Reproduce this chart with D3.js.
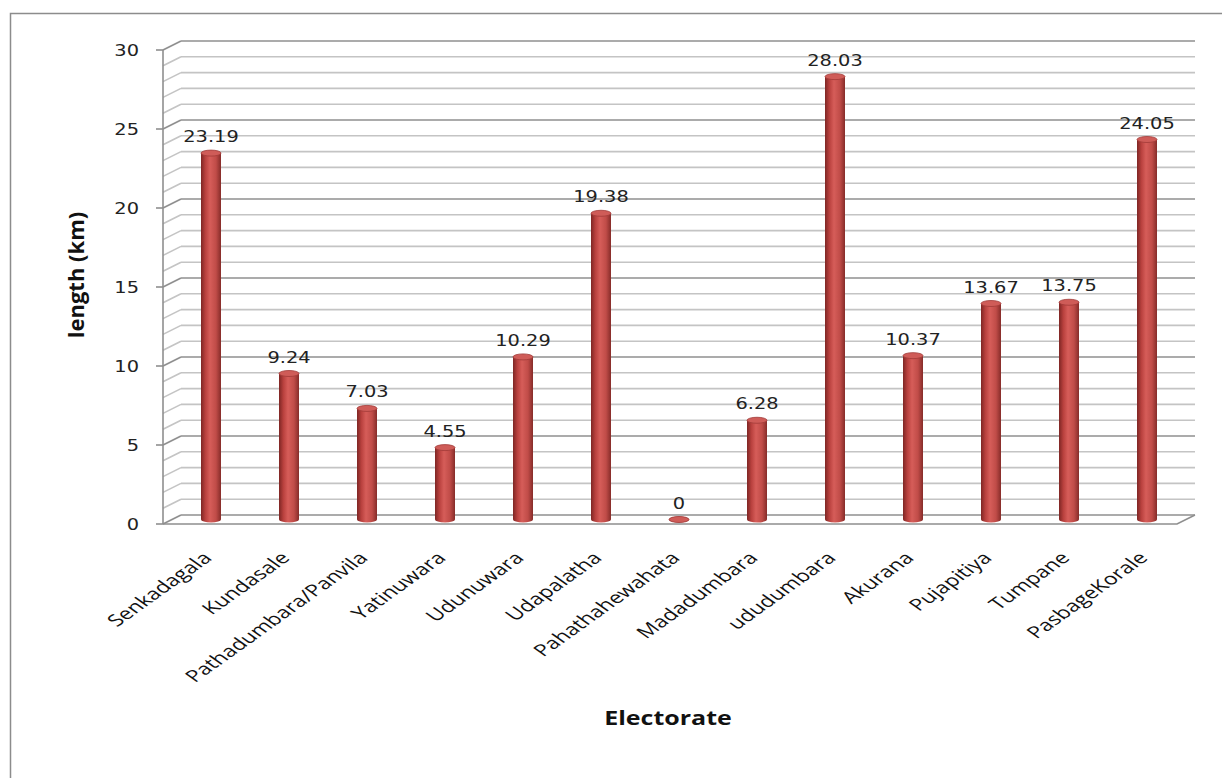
<!DOCTYPE html>
<html>
<head>
<meta charset="utf-8">
<script src="https://cdn.jsdelivr.net/npm/d3@7"></script>
<style>
  body { margin: 0; background: #fff; }
</style>
</head>
<body>
<div id="chart"></div>
<script>
const width = 1222
const height = 778

/* Data */
const electorates = ['Senkadagala', 'Kundasale', 'Pathadumbara/Panvila', 'Yatinuwara', 'Udunuwara',
    'Udapalatha', 'Pahathahewahata', 'Madadumbara', 'ududumbara', 'Akurana', 'Pujapitiya', 'Tumpane', 'PasbageKorale']
const lengths = [23.19, 9.24, 7.03, 4.55, 10.29, 19.38, 0, 6.28, 28.03, 10.37, 13.67, 13.75, 24.05]
const yTicks = [0, 5, 10, 15, 20, 25, 30]

const data = electorates.map((name, i) => ({ name, value: lengths[i] }))

/* 3d depth offset of the back wall */
const depthX = 18
const depthY = -9

const x = d3.scaleBand().domain(electorates).range([163, 1177])
const y = d3.scaleLinear().domain([0, 30]).range([524, 50])

const svg = d3.select('#chart').append('svg').attr('width', width).attr('height', height)

/* outer frame */
svg.append('rect')
    .attr('x', 10.5).attr('y', 13.5)
    .attr('width', 1400).attr('height', 1000)
    .attr('fill', 'none').attr('stroke', '#8c8c8c').attr('stroke-width', 1.5)

const defs = svg.append('defs')
const grad = defs.append('linearGradient').attr('id', 'cyl').attr('x1', 0).attr('x2', 1).attr('y1', 0).attr('y2', 0)
grad.append('stop').attr('offset', '0%').attr('stop-color', '#7e2624')
grad.append('stop').attr('offset', '22%').attr('stop-color', '#b9413e')
grad.append('stop').attr('offset', '45%').attr('stop-color', '#d65d59')
grad.append('stop').attr('offset', '75%').attr('stop-color', '#c04c48')
grad.append('stop').attr('offset', '100%').attr('stop-color', '#862c29')

/* gridlines: back wall + left side wall */
const grid = svg.append('g')
const gridVals = d3.range(0, 31)
grid.selectAll('line.back')
    .data(gridVals)
    .join('line')
    .attr('class', 'back')
    .attr('x1', 163 + depthX).attr('x2', 1177 + depthX)
    .attr('y1', d => y(d) + depthY).attr('y2', d => y(d) + depthY)
    .attr('stroke', d => d % 5 === 0 ? '#8f8f8f' : '#c4c4c4')
    .attr('stroke-width', 1.6)
grid.selectAll('line.side')
    .data(gridVals)
    .join('line')
    .attr('class', 'side')
    .attr('x1', 163).attr('x2', 163 + depthX)
    .attr('y1', d => y(d)).attr('y2', d => y(d) + depthY)
    .attr('stroke', d => d % 5 === 0 ? '#8f8f8f' : '#c4c4c4')
    .attr('stroke-width', 1.6)

/* floor */
svg.append('path')
    .attr('d', `M163,${y(0)} L1177,${y(0)} L${1177 + depthX},${y(0) + depthY}`)
    .attr('fill', 'none').attr('stroke', '#8f8f8f').attr('stroke-width', 1.6)

/* y axis */
svg.append('line')
    .attr('x1', 163).attr('x2', 163).attr('y1', y(0)).attr('y2', y(30))
    .attr('stroke', '#8f8f8f').attr('stroke-width', 1.6)
const ticks = svg.append('g')
ticks.selectAll('line')
    .data(yTicks)
    .join('line')
    .attr('x1', 156).attr('x2', 163)
    .attr('y1', d => y(d)).attr('y2', d => y(d))
    .attr('stroke', '#8f8f8f').attr('stroke-width', 1.6)
ticks.selectAll('text')
    .data(yTicks)
    .join('text')
    .attr('transform', d => `translate(139,${y(d)}) scale(1.25,1)`)
    .attr('dy', '0.36em')
    .attr('text-anchor', 'end')
    .attr('font-family', 'DejaVu Sans')
    .attr('font-size', 15.5)
    .attr('fill', '#222')
    .text(d => d)

/* cylinders */
const cx = d => x(d.name) + x.bandwidth() / 2 + depthX / 2
const baseY = y(0) + depthY / 2
const topY = d => y(d.value) + depthY / 2
const rx = 10
const ry = 3

const bars = svg.append('g').selectAll('g.bar')
    .data(data)
    .join('g')
    .attr('class', 'bar')

bars.append('ellipse')
    .attr('cx', cx).attr('cy', baseY)
    .attr('rx', rx).attr('ry', ry)
    .attr('fill', 'url(#cyl)')
bars.append('rect')
    .attr('x', d => cx(d) - rx).attr('y', topY)
    .attr('width', rx * 2).attr('height', d => baseY - topY(d))
    .attr('fill', 'url(#cyl)')
bars.append('ellipse')
    .attr('cx', cx).attr('cy', topY)
    .attr('rx', rx).attr('ry', ry)
    .attr('fill', '#cf5c58')
    .attr('stroke', '#a13a37').attr('stroke-width', 0.8)

/* value labels */
bars.append('text')
    .attr('transform', d => `translate(${cx(d)},${topY(d) - 11}) scale(1.25,1)`)
    .attr('text-anchor', 'middle')
    .attr('font-family', 'DejaVu Sans')
    .attr('font-size', 15.5)
    .attr('fill', '#222')
    .text(d => d.value)

/* category labels */
svg.append('g').selectAll('text')
    .data(data)
    .join('text')
    .attr('transform', d => `translate(${cx(d) + 2},559) scale(1.4,1) rotate(-45)`)
    .attr('text-anchor', 'end')
    .attr('font-family', 'Open Sans')
    .attr('font-size', 16.5)
    .attr('fill', '#111')
    .text(d => d.name)

/* axis titles */
svg.append('text')
    .attr('transform', 'translate(668,725) scale(1.25,1)')
    .attr('text-anchor', 'middle')
    .attr('font-family', 'Open Sans')
    .attr('font-weight', 'bold')
    .attr('font-size', 20)
    .attr('fill', '#111')
    .text('Electorate')

svg.append('text')
    .attr('transform', 'translate(84,275) rotate(-90)')
    .attr('text-anchor', 'middle')
    .attr('font-family', 'Open Sans')
    .attr('font-weight', 'bold')
    .attr('font-size', 22)
    .attr('fill', '#111')
    .text('length (km)')
</script>
</body>
</html>
